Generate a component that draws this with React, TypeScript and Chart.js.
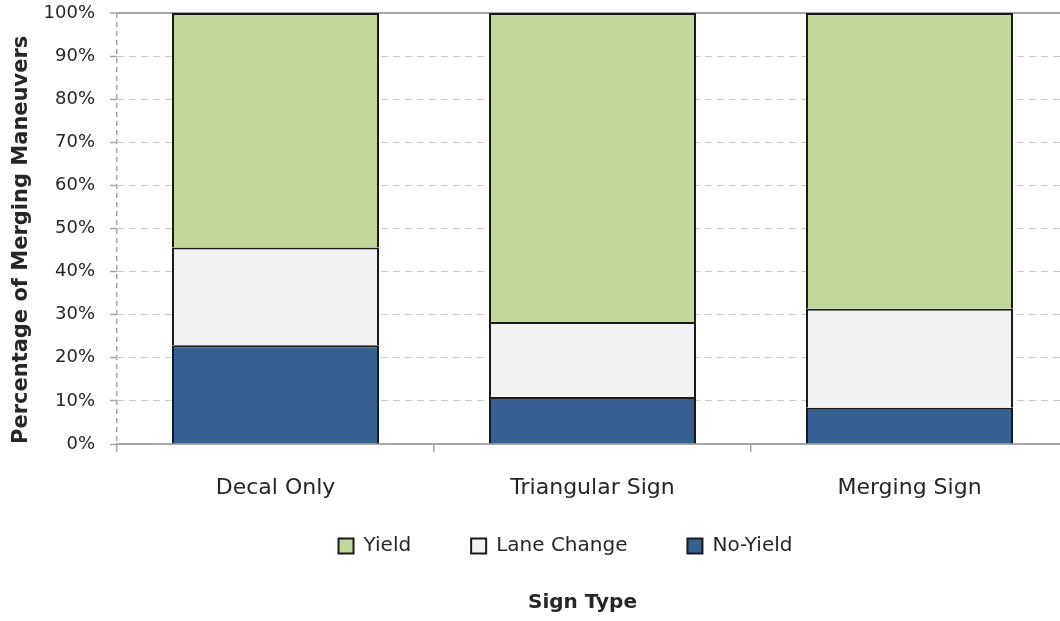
import React, { useEffect, useRef } from 'react';
import { Chart, registerables } from 'chart.js';

Chart.register(...registerables);

const categories = ['Decal Only', 'Triangular Sign', 'Merging Sign'];
const noYield = [22.9, 10.9, 8.4];
const laneChange = [22.7, 17.4, 23.0];
const yieldShare = [54.4, 71.7, 68.6];
const seriesNames = ['No-Yield', 'Lane Change', 'Yield'];
const seriesColors = ['#366092', '#f2f2f2', '#c4d79b'];

const FONT = "'DejaVu Sans', sans-serif";
const TEXT = '#262626';
const AXIS = '#a6a6a6';
const GRID = '#c8c8c8';

export default function App() {
  const ref = useRef<HTMLCanvasElement>(null);

  useEffect(() => {
    const shiftPlugin = {
      id: 'shiftBottomBlocks',
      afterLayout(chart: any) {
        const lg = chart.legend;
        if (lg) {
          lg.left -= 27;
          lg.right -= 27;
          lg.top -= 28;
          lg.bottom -= 28;
        }
        const tb = chart.titleBlock;
        if (tb) {
          tb.left -= 10;
          tb.right -= 10;
          tb.top -= 3;
          tb.bottom -= 3;
        }
      },
    };

    const values = [noYield, laneChange, yieldShare];
    const chart = new Chart(ref.current as HTMLCanvasElement, {
      type: 'bar',
      data: {
        labels: categories,
        datasets: values.map((d, i) => ({
          label: seriesNames[i],
          data: d,
          backgroundColor: seriesColors[i],
          borderColor: '#1a1a1a',
          borderWidth: 2,
          borderSkipped: 'start',
          inflateAmount: 0,
          categoryPercentage: 1,
          barPercentage: 0.653,
        })),
      },
      options: {
        responsive: false,
        animation: false,
        layout: { padding: { top: 13, left: 0, right: 0, bottom: 0 } },
        scales: {
          x: {
            stacked: true,
            grid: {
              offset: true,
              drawOnChartArea: true,
              color: (c: any) => (c.index === 0 ? AXIS : 'rgba(0,0,0,0)'),
              lineWidth: 1.5,
              tickColor: AXIS,
              tickLength: 8,
              tickWidth: 1.5,
            },
            border: { display: true, color: AXIS, width: 2, dash: [5, 4] },
            ticks: { font: { family: FONT, size: 22 }, color: TEXT, padding: 23 },
            afterFit: (s: any) => {
              s.height = 60;
            },
          },
          y: {
            stacked: true,
            min: 0,
            max: 100,
            ticks: {
              stepSize: 10,
              callback: (v: any) => v + '%',
              font: { family: FONT, size: 18 },
              color: TEXT,
              padding: 15,
            },
            grid: {
              color: (c: any) => (c.tick && c.tick.value === 100 ? AXIS : GRID),
              lineWidth: (c: any) => (c.tick && c.tick.value === 100 ? 2 : 1),
              tickColor: AXIS,
              tickLength: 7,
              tickWidth: 1.5,
            },
            border: {
              display: false,
              dash: (c: any) => (c.tick && c.tick.value === 100 ? [] : [7, 5]),
            },
            title: {
              display: true,
              text: 'Percentage of Merging Maneuvers',
              align: 'start',
              color: TEXT,
              font: { family: FONT, size: 21, weight: 'bold' },
              padding: { top: 9, bottom: 0 },
            },
            afterFit: (s: any) => {
              s.width = 117;
              s.paddingTop = 0;
              s.paddingBottom = 0;
            },
          },
        },
        plugins: {
          legend: {
            position: 'bottom',
            fullSize: false,
            reverse: true,
            labels: {
              boxWidth: 15,
              boxHeight: 15,
              padding: 60,
              color: TEXT,
              font: { family: FONT, size: 20 },
            },
          },
          title: {
            display: true,
            position: 'bottom',
            fullSize: false,
            text: 'Sign Type',
            color: TEXT,
            font: { family: FONT, size: 20, weight: 'bold' },
            padding: { top: 0, bottom: 3 },
          },
          tooltip: { enabled: false },
        },
      } as any,
      plugins: [shiftPlugin],
    });
    return () => chart.destroy();
  }, []);

  return (
    <div
      style={{
        position: 'fixed',
        left: 0,
        top: 0,
        width: 1060,
        height: 621,
        overflow: 'hidden',
        background: '#ffffff',
      }}
    >
      <canvas ref={ref} width={1068} height={621} style={{ width: 1068, height: 621, display: 'block' }} />
    </div>
  );
}
